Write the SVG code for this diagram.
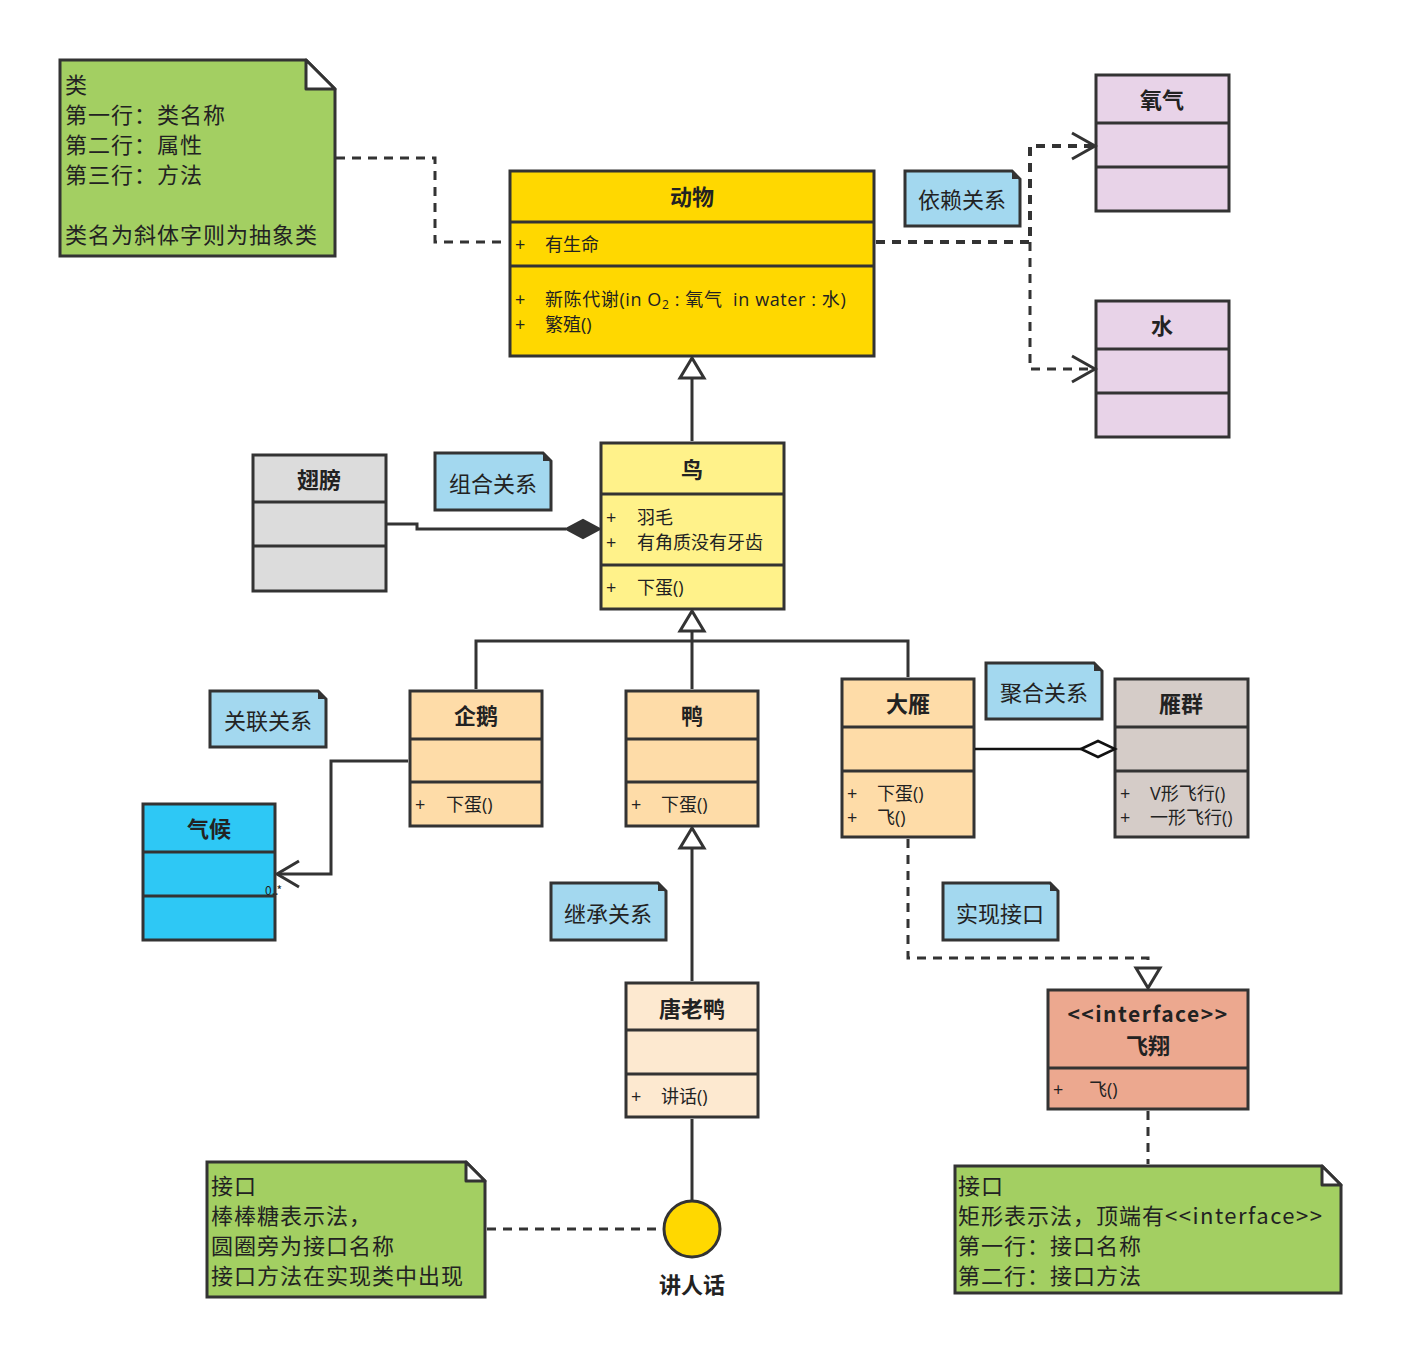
<svg xmlns="http://www.w3.org/2000/svg" width="1401" height="1363" viewBox="0 0 1401 1363">
<style>
text{font-family:"Noto Sans CJK SC","Noto Sans",sans-serif;fill:#222}
.box{stroke:#333;stroke-width:3}
.sep{stroke:#333;stroke-width:3}
.title{font-size:22px;font-weight:bold;text-anchor:middle}
.mem{font-size:18px;font-family:"Open Sans","Noto Sans CJK SC",sans-serif}
.note{font-size:22px;letter-spacing:1px}
.lbl{font-size:22px;text-anchor:middle}
.line{fill:none;stroke:#333;stroke-width:3}
.dash{fill:none;stroke:#333;stroke-width:3;stroke-dasharray:9 7}
.fold{fill:#fff;stroke:#333;stroke-width:3;stroke-linejoin:round}
.green{fill:#a3cf62}
.blue{fill:#a3d8ef}
</style>
<rect width="1401" height="1363" fill="#fff"/>

<g id="note-class">
  <path class="box green" d="M60,60 H306 L335,89 V256 H60 Z"/>
  <path class="fold" d="M306,60 V89 H335 Z"/>
  <text class="note" x="65" y="93">类</text>
  <text class="note" x="65" y="123">第一行：类名称</text>
  <text class="note" x="65" y="153">第二行：属性</text>
  <text class="note" x="65" y="183">第三行：方法</text>
  <text class="note" x="65" y="243">类名为斜体字则为抽象类</text>
</g>

<g id="animal">
  <rect class="box" x="510" y="171" width="364" height="185" fill="#ffd800"/>
  <line class="sep" x1="510" y1="222" x2="874" y2="222"/>
  <line class="sep" x1="510" y1="266" x2="874" y2="266"/>
  <text class="title" x="692" y="205">动物</text>
  <text class="mem" x="515" y="251">+</text><text class="mem" x="545" y="251">有生命</text>
  <text class="mem" x="515" y="306">+</text><text class="mem" x="545" y="306" xml:space="preserve" letter-spacing="0.6">新陈代谢(in O<tspan font-size="12" dy="3">2</tspan><tspan dy="-3"> : 氧气  in water : 水)</tspan></text>
  <text class="mem" x="515" y="331">+</text><text class="mem" x="545" y="331">繁殖()</text>
</g>

<g id="note-dependency">
  <path class="box blue" d="M905,171 H1012 L1020,179 V226 H905 Z"/>
  <path d="M1012,171 V179 H1020 Z" fill="#333"/>
  <text class="lbl" x="962" y="208">依赖关系</text>
</g>

<g id="oxygen">
  <rect class="box" x="1096" y="75" width="133" height="136" fill="#e8d3e8"/>
  <line class="sep" x1="1096" y1="123" x2="1229" y2="123"/>
  <line class="sep" x1="1096" y1="167" x2="1229" y2="167"/>
  <text class="title" x="1162" y="108">氧气</text>
</g>

<g id="water">
  <rect class="box" x="1096" y="301" width="133" height="136" fill="#e8d3e8"/>
  <line class="sep" x1="1096" y1="349" x2="1229" y2="349"/>
  <line class="sep" x1="1096" y1="393" x2="1229" y2="393"/>
  <text class="title" x="1162" y="334">水</text>
</g>

<g id="bird">
  <rect class="box" x="601" y="443" width="183" height="166" fill="#fff28a"/>
  <line class="sep" x1="601" y1="494" x2="784" y2="494"/>
  <line class="sep" x1="601" y1="565" x2="784" y2="565"/>
  <text class="title" x="692" y="478">鸟</text>
  <text class="mem" x="606" y="524">+</text><text class="mem" x="637" y="524">羽毛</text>
  <text class="mem" x="606" y="549">+</text><text class="mem" x="637" y="549">有角质没有牙齿</text>
  <text class="mem" x="606" y="594">+</text><text class="mem" x="637" y="594">下蛋()</text>
</g>

<g id="wing">
  <rect class="box" x="253" y="455" width="133" height="136" fill="#dcdcdc"/>
  <line class="sep" x1="253" y1="502" x2="386" y2="502"/>
  <line class="sep" x1="253" y1="546" x2="386" y2="546"/>
  <text class="title" x="319" y="488">翅膀</text>
</g>

<g id="note-composition">
  <path class="box blue" d="M435,453 H543 L551,461 V510 H435 Z"/>
  <path d="M543,453 V461 H551 Z" fill="#333"/>
  <text class="lbl" x="493" y="492">组合关系</text>
</g>

<g id="penguin">
  <rect class="box" x="410" y="691" width="132" height="135" fill="#fedca8"/>
  <line class="sep" x1="410" y1="739" x2="542" y2="739"/>
  <line class="sep" x1="410" y1="782" x2="542" y2="782"/>
  <text class="title" x="476" y="724">企鹅</text>
  <text class="mem" x="415" y="811">+</text><text class="mem" x="446" y="811">下蛋()</text>
</g>

<g id="duck">
  <rect class="box" x="626" y="691" width="132" height="135" fill="#fedca8"/>
  <line class="sep" x1="626" y1="739" x2="758" y2="739"/>
  <line class="sep" x1="626" y1="782" x2="758" y2="782"/>
  <text class="title" x="692" y="724">鸭</text>
  <text class="mem" x="631" y="811">+</text><text class="mem" x="661" y="811">下蛋()</text>
</g>

<g id="goose">
  <rect class="box" x="842" y="679" width="132" height="158" fill="#fedca8"/>
  <line class="sep" x1="842" y1="727" x2="974" y2="727"/>
  <line class="sep" x1="842" y1="771" x2="974" y2="771"/>
  <text class="title" x="908" y="712">大雁</text>
  <text class="mem" x="847" y="800">+</text><text class="mem" x="877" y="800">下蛋()</text>
  <text class="mem" x="847" y="824">+</text><text class="mem" x="877" y="824">飞()</text>
</g>

<g id="note-aggregation">
  <path class="box blue" d="M986,663 H1094 L1102,671 V719 H986 Z"/>
  <path d="M1094,663 V671 H1102 Z" fill="#333"/>
  <text class="lbl" x="1044" y="701">聚合关系</text>
</g>

<g id="geese">
  <rect class="box" x="1115" y="679" width="133" height="158" fill="#d5ccc8"/>
  <line class="sep" x1="1115" y1="727" x2="1248" y2="727"/>
  <line class="sep" x1="1115" y1="771" x2="1248" y2="771"/>
  <text class="title" x="1181" y="712">雁群</text>
  <text class="mem" x="1120" y="800">+</text><text class="mem" x="1150" y="800">V形飞行()</text>
  <text class="mem" x="1120" y="824">+</text><text class="mem" x="1150" y="824">一形飞行()</text>
</g>

<g id="note-association">
  <path class="box blue" d="M210,691 H318 L326,699 V747 H210 Z"/>
  <path d="M318,691 V699 H326 Z" fill="#333"/>
  <text class="lbl" x="268" y="729">关联关系</text>
</g>

<g id="climate">
  <rect class="box" x="143" y="804" width="132" height="136" fill="#2ec8f5"/>
  <line class="sep" x1="143" y1="852" x2="275" y2="852"/>
  <line class="sep" x1="143" y1="896" x2="275" y2="896"/>
  <text class="title" x="209" y="837">气候</text>
</g>

<g id="note-inheritance">
  <path class="box blue" d="M551,883 H658 L666,891 V940 H551 Z"/>
  <path d="M658,883 V891 H666 Z" fill="#333"/>
  <text class="lbl" x="608" y="922">继承关系</text>
</g>

<g id="note-realization">
  <path class="box blue" d="M943,883 H1050 L1058,891 V940 H943 Z"/>
  <path d="M1050,883 V891 H1058 Z" fill="#333"/>
  <text class="lbl" x="1000" y="922">实现接口</text>
</g>

<g id="donald">
  <rect class="box" x="626" y="983" width="132" height="134" fill="#fde9d0"/>
  <line class="sep" x1="626" y1="1030" x2="758" y2="1030"/>
  <line class="sep" x1="626" y1="1074" x2="758" y2="1074"/>
  <text class="title" x="692" y="1017">唐老鸭</text>
  <text class="mem" x="631" y="1103">+</text><text class="mem" x="661" y="1103">讲话()</text>
</g>

<g id="fly-interface">
  <rect class="box" x="1048" y="990" width="200" height="119" fill="#eca88f"/>
  <line class="sep" x1="1048" y1="1068" x2="1248" y2="1068"/>
  <text x="1148" y="1022" font-size="21" font-weight="bold" text-anchor="middle" letter-spacing="1.5">&lt;&lt;interface&gt;&gt;</text>
  <text class="title" x="1148" y="1054">飞翔</text>
  <text class="mem" x="1053" y="1096">+</text><text class="mem" x="1089" y="1096">飞()</text>
</g>

<g id="speak-lollipop">
  <circle cx="692" cy="1229" r="28" fill="#ffd800" stroke="#333" stroke-width="3"/>
  <text class="title" x="692" y="1293">讲人话</text>
</g>

<g id="note-lollipop">
  <path class="box green" d="M207,1162 H466 L485,1181 V1297 H207 Z"/>
  <path class="fold" d="M466,1162 V1181 H485 Z"/>
  <text class="note" x="211" y="1194">接口</text>
  <text class="note" x="211" y="1224">棒棒糖表示法，</text>
  <text class="note" x="211" y="1254">圆圈旁为接口名称</text>
  <text class="note" x="211" y="1284">接口方法在实现类中出现</text>
</g>

<g id="note-interface">
  <path class="box green" d="M955,1166 H1322 L1341,1185 V1293 H955 Z"/>
  <path class="fold" d="M1322,1166 V1185 H1341 Z"/>
  <text class="note" x="958" y="1194">接口</text>
  <text class="note" x="958" y="1224">矩形表示法，顶端有<tspan letter-spacing="1.5">&lt;&lt;interface&gt;&gt;</tspan></text>
  <text class="note" x="958" y="1254">第一行：接口名称</text>
  <text class="note" x="958" y="1284">第二行：接口方法</text>
</g>

<g id="connectors">
  <path class="dash" d="M336,158 H435 V242 H508"/>
  <path class="dash" d="M876,242 H1030 V146 H1093" style="stroke-width:4"/>
  <path class="dash" d="M1030,242 V369 H1093"/>
  <path class="line" d="M1072,133 L1095,146 L1072,159"/>
  <path class="line" d="M1072,356 L1095,369 L1072,382"/>
  <path class="line" d="M692,441 V378"/>
  <path class="line" d="M692,358 L680,378 H704 Z" style="fill:#fff"/>
  <path class="line" d="M386,524 H417 V529 H566"/>
  <path d="M566,529 L583,520 L600,529 L583,538 Z" fill="#333" stroke="#333" stroke-width="2"/>
  <path class="line" d="M476,689 V641 H908 V677 M692,689 V631"/>
  <path class="line" d="M692,611 L680,631 H704 Z" style="fill:#fff"/>
  <path d="M975,749 H1081" fill="none" stroke="#111" stroke-width="2.5"/>
  <path d="M1081,749 L1098,741 L1115,749 L1098,757 Z" fill="#fff" stroke="#111" stroke-width="2.5"/>
  <path class="line" d="M408,761 H331 V874 H278"/>
  <path class="line" d="M299,861 L277,874 L299,887"/>
  <text x="265" y="895" font-size="12" fill="#333">0..*</text>
  <path class="line" d="M692,981 V848"/>
  <path class="line" d="M692,828 L680,848 H704 Z" style="fill:#fff"/>
  <path class="dash" d="M908,839 V958 H1148 V968"/>
  <path class="line" d="M1148,988 L1136,968 H1160 Z" style="fill:#fff"/>
  <path class="dash" d="M1148,1111 V1164"/>
  <path class="line" d="M692,1119 V1201"/>
  <path class="dash" d="M487,1229 H662"/>
</g>
</svg>
